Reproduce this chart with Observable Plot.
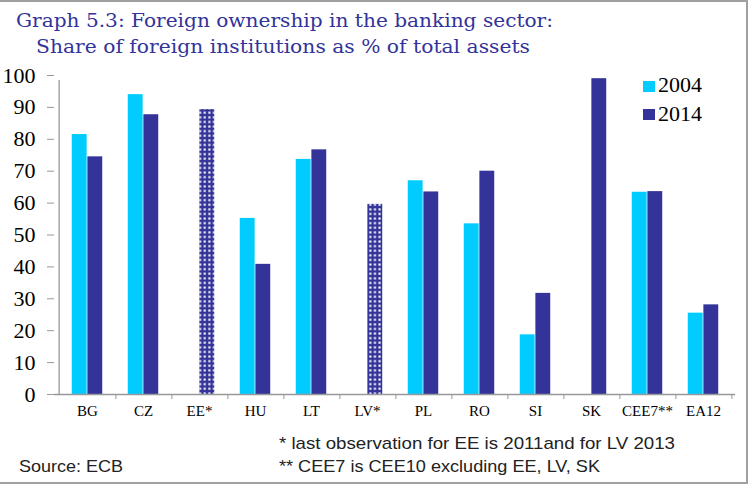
<!DOCTYPE html>
<html>
<head>
<meta charset="utf-8">
<script src="https://cdn.jsdelivr.net/npm/d3@7"></script>
<script src="https://cdn.jsdelivr.net/npm/@observablehq/plot@0.6"></script>
<style>
  html, body { margin: 0; padding: 0; background: #fff; }
  #wrap { position: relative; width: 748px; height: 484px; overflow: hidden; }
  #wrap svg { position: absolute; left: 0; top: 0; }
  .chartsvg text { font-family: 'Liberation Serif', 'Times New Roman', serif !important; font-variant-numeric: normal !important; }
</style>
</head>
<body>
<div id="wrap"></div>
<script>
// ---- data ----
const categories = ["BG", "CZ", "EE*", "HU", "LT", "LV*", "PL", "RO", "SI", "SK", "CEE7**", "EA12"];
const values2004 = [81.5, 94.0, null, 55.2, 73.7, null, 67.0, 53.5, 18.7, null, 63.4, 25.5];
const values2014 = [74.5, 87.7, 89.3, 40.8, 76.7, 59.6, 63.5, 70.0, 31.7, 99.0, 63.6, 28.1];
const patternedCategories = ["EE*", "LV*"];   // last observation 2011 / 2013
const seriesNames = ["2004", "2014"];
const yTicks = [0, 10, 20, 30, 40, 50, 60, 70, 80, 90, 100];

const titleLines = ["Graph 5.3: Foreign ownership in the banking sector:", "Share of foreign institutions as % of total assets"];
const footnotes = ["* last observation for EE is 2011and for LV 2013", "** CEE7 is CEE10 excluding  EE, LV, SK"];
const sourceText = "Source: ECB";

// ---- tables ----
const rows2004 = categories.map((c, i) => ({cat: c, v: values2004[i]})).filter(d => d.v != null);
const rows2014 = categories.map((c, i) => ({cat: c, v: values2014[i]})).filter(d => d.v != null);
const solid2014 = rows2014.filter(d => !patternedCategories.includes(d.cat));
const hatch2014 = rows2014.filter(d => patternedCategories.includes(d.cat));

const W = 748, H = 484;
const mL = 54, mR = 13, mT = 75, mB = 90;
const bw = (W - mL - mR) / categories.length;
const c2004 = "#00ccff", c2014 = "#333399";
const serif = "'Liberation Serif', 'Times New Roman', serif";

const chart = Plot.plot({
  width: W, height: H,
  marginLeft: mL, marginRight: mR, marginTop: mT, marginBottom: mB,
  style: {fontFamily: serif, background: "transparent", overflow: "visible"},
  x: {domain: categories, padding: 0, axis: null, label: null},
  y: {domain: [0, 100], axis: null, label: null},
  marks: [
    Plot.barY(rows2004, {x: "cat", y: "v", fill: c2004, insetLeft: bw * 0.225, insetRight: bw * 0.5}),
    Plot.barY(solid2014, {x: "cat", y: "v", fill: c2014, insetLeft: bw * 0.5, insetRight: bw * 0.225}),
    Plot.barY(hatch2014, {x: "cat", y: "v", fill: "url(#hatch)", insetLeft: bw * 0.5, insetRight: bw * 0.225}),
    Plot.ruleY([0], {stroke: "#999", strokeWidth: 1.3}),
    Plot.ruleX([categories[0]], {y1: 0, y2: 100, dx: -bw / 2, stroke: "#999", strokeWidth: 1.3, insetBottom: -5}),
    Plot.axisY({ticks: yTicks, label: null, tickSize: 7, tickPadding: 12, fontSize: 22, stroke: "#999", tickFormat: d => String(d)}),
    Plot.axisX({label: null, tickSize: 5, tickPadding: 0, tickFormat: () => "", dx: bw / 2, stroke: "#999"}),
    Plot.axisX({label: null, tickSize: 0, tickPadding: 11, fontSize: 15, tickFormat: d => d})
  ]
});

chart.classList.add("chartsvg");
d3.select(chart).selectAll("text").style("font-family", serif);

// pattern definition for the hatched bars
const svgSel = d3.select(chart);
const defs = svgSel.insert("defs", ":first-child");
const pat = defs.append("pattern").attr("id", "hatch").attr("patternUnits", "userSpaceOnUse")
  .attr("width", 4.6).attr("height", 4.6);
pat.append("rect").attr("width", 4.6).attr("height", 4.6).attr("fill", c2014);
pat.append("rect").attr("x", 1.3).attr("y", 1.3).attr("width", 2.1).attr("height", 2.1).attr("fill", "#fff");

const wrap = document.getElementById("wrap");
wrap.appendChild(chart);

// ---- overlay: title, legend, footnotes, frame ----
const ov = d3.select(wrap).append("svg").attr("width", W).attr("height", H).style("pointer-events", "none");

ov.append("text").attr("x", 16).attr("y", 27).attr("font-family", "'DejaVu Serif', serif").attr("font-size", 18.5)
  .attr("fill", c2014).attr("textLength", 537).attr("lengthAdjust", "spacingAndGlyphs").text(titleLines[0]);
ov.append("text").attr("x", 36).attr("y", 53).attr("font-family", "'DejaVu Serif', serif").attr("font-size", 18.5)
  .attr("fill", c2014).attr("textLength", 494).attr("lengthAdjust", "spacingAndGlyphs").text(titleLines[1]);

const legendColors = [c2004, c2014];
seriesNames.forEach((s, i) => {
  ov.append("rect").attr("x", 643).attr("y", 81 + i * 28).attr("width", 12).attr("height", 11).attr("fill", legendColors[i]);
  ov.append("text").attr("x", 658).attr("y", 92 + i * 29).attr("font-family", serif).attr("font-size", 22)
    .attr("fill", "#000").text(s);
});

const sans = "'Liberation Sans', Arial, sans-serif";
ov.append("text").attr("x", 279).attr("y", 449).attr("font-family", sans).attr("font-size", 17).attr("fill", "#222")
  .attr("textLength", 396).attr("lengthAdjust", "spacingAndGlyphs").text(footnotes[0]);
ov.append("text").attr("x", 279).attr("y", 472).attr("font-family", sans).attr("font-size", 17).attr("fill", "#222")
  .attr("textLength", 321).attr("lengthAdjust", "spacingAndGlyphs").text(footnotes[1]);
ov.append("text").attr("x", 19).attr("y", 472).attr("font-family", sans).attr("font-size", 17).attr("fill", "#222")
  .attr("textLength", 104).attr("lengthAdjust", "spacingAndGlyphs").text(sourceText);

ov.append("rect").attr("x", 0).attr("y", 0).attr("width", W).attr("height", 2).attr("fill", "#a0a0a0");
ov.append("rect").attr("x", W - 2).attr("y", 0).attr("width", 2).attr("height", H).attr("fill", "#a0a0a0");
ov.append("rect").attr("x", 0).attr("y", H - 2).attr("width", W).attr("height", 2).attr("fill", "#a0a0a0");
</script>
</body>
</html>
